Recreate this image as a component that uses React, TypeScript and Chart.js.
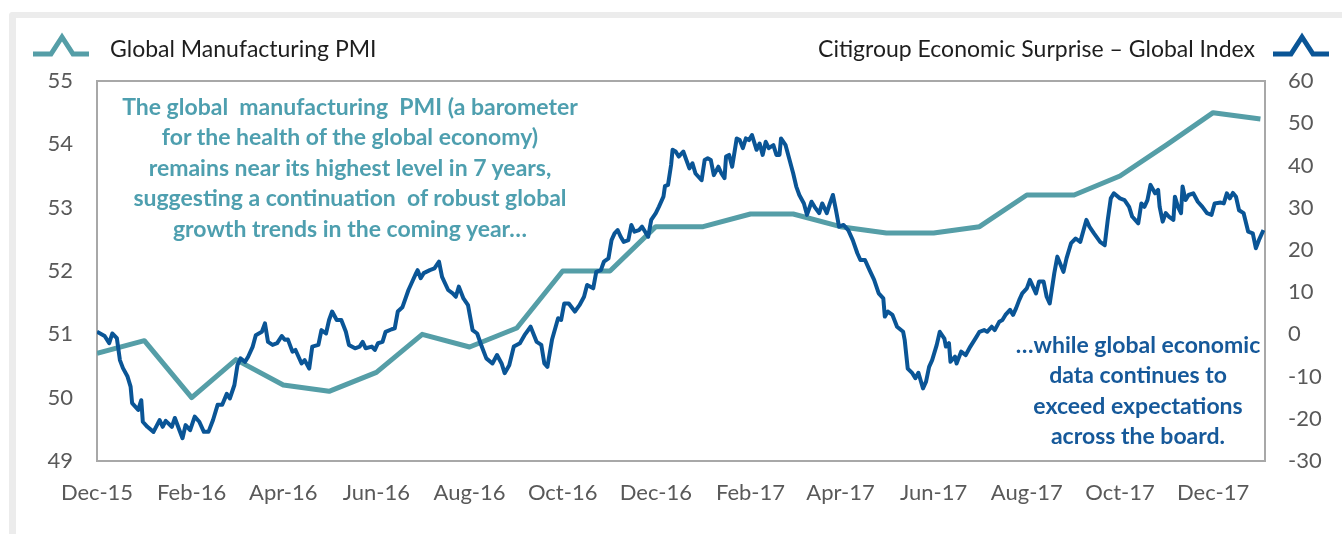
import React, { useEffect, useRef } from "react";
import { Chart, registerables } from "chart.js";

Chart.register(...registerables);

// ---------- DATA ----------
// x axis tick labels (every two months)
const tickLabels = [
  "Dec-15", "Feb-16", "Apr-16", "Jun-16", "Aug-16", "Oct-16", "Dec-16",
  "Feb-17", "Apr-17", "Jun-17", "Aug-17", "Oct-17", "Dec-17",
];

// Global Manufacturing PMI (monthly, left axis)
const pmiMonths = [
  "Dec-15", "Jan-16", "Feb-16", "Mar-16", "Apr-16", "May-16", "Jun-16", "Jul-16",
  "Aug-16", "Sep-16", "Oct-16", "Nov-16", "Dec-16", "Jan-17", "Feb-17", "Mar-17",
  "Apr-17", "May-17", "Jun-17", "Jul-17", "Aug-17", "Sep-17", "Oct-17", "Nov-17",
  "Dec-17", "Jan-18",
];
const pmiValues = [
  50.7, 50.9, 50.0, 50.6, 50.2, 50.1, 50.4, 51.0,
  50.8, 51.1, 52.0, 52.0, 52.7, 52.7, 52.9, 52.9,
  52.7, 52.6, 52.6, 52.7, 53.2, 53.2, 53.5, 54.0,
  54.5, 54.4,
];

// Citigroup Economic Surprise - Global Index (right axis)
// days counted from 1 Dec 2015
const citiDays = [
  0, 5, 8, 10, 13, 15, 17, 20, 22, 23,
  27, 29, 30, 33, 37, 41, 43, 45, 49, 51,
  54, 56, 58, 61, 64, 67, 70, 73, 76, 79,
  82, 85, 87, 90, 92, 94, 97, 99, 102, 104,
  108, 110, 112, 115, 118, 121, 123, 125, 128, 130,
  134, 136, 139, 141, 145, 147, 150, 152, 154, 157,
  160, 163, 165, 169, 172, 174, 176, 180, 182, 184,
  187, 189, 193, 195, 197, 200, 204, 206, 209, 210,
  212, 214, 218, 221, 224, 226, 230, 233, 235, 237,
  240, 243, 246, 249, 252, 255, 259, 262, 265, 267,
  270, 273, 277, 280, 284, 288,
  291, 293, 295, 298, 302, 304, 306, 309, 313, 316,
  319, 321, 325, 327, 330, 332, 335, 337, 339, 341,
  343, 345, 348, 350, 352, 355, 357, 361, 363, 366,
  368, 371, 372, 374, 376, 377, 379, 381, 384, 386,
  388, 390, 392, 396, 398, 400, 402, 404, 407, 409,
  411, 412, 414, 416, 419, 421, 423, 425, 427, 429,
  432, 434, 436, 438, 440, 443, 445, 447, 448, 451,
  453, 456, 458, 460, 463, 465, 468, 470, 473, 475,
  478, 480, 482, 484, 486, 489, 492, 495, 498, 500,
  503, 506, 509, 512, 515, 516, 518, 521, 524, 528,
  529, 531, 534, 536, 538, 540, 541, 543, 545, 547,
  550, 552, 555, 556, 558, 559, 562, 563, 566, 569,
  572, 576, 578, 581, 583, 586, 588, 591, 593, 595,
  598, 600, 602, 604, 606, 609, 611, 615, 617, 620,
  622, 624, 627, 629, 633, 635, 638, 641, 644, 648,
  650, 653, 657, 660, 662, 664, 666, 670, 673, 676,
  678, 682, 684, 686, 688, 690, 693, 695, 696, 698,
  700, 702, 705, 706, 708, 710, 711, 713, 715, 718,
  721, 724, 727, 730, 732, 736, 738, 740, 742, 744,
  746, 748, 751, 754, 757, 759, 761, 764,
];
const citiValues = [
  0.6, -0.4, -2.1, 0.2, -0.9, -6.1, -8.0, -10.0, -12.4, -16.3,
  -17.9, -15.6, -20.7, -21.9, -23.1, -20.3, -21.9, -20.5, -21.9, -19.8,
  -22.7, -24.6, -21.5, -22.7, -19.5, -20.7, -23.1, -23.1, -20.3, -16.7,
  -16.7, -14.1, -15.2, -12.0, -7.3, -5.7, -6.5, -5.3, -2.9, -0.2,
  0.6, 2.6, -1.8, -2.5, -2.1, -0.4, -1.3, -1.2, -4.1, -3.7,
  -6.9, -6.1, -8.1, -2.9, -2.5, 1.0, 0.2, 3.4, 5.4, 3.4,
  3.4, 0.6, -2.5, -3.3, -2.9, -1.8, -3.3, -2.9, -3.7, -2.1,
  -1.8, 0.6, 1.2, 1.4, 5.4, 6.4, 10.5, 12.1, 14.5, 15.2,
  13.3, 14.5, 15.2, 15.6, 17.2, 13.6, 10.5, 9.7, 8.9, 11.3,
  8.5, 6.9, 1.0, 0.2, -2.9, -5.7, -6.9, -4.9, -6.9, -9.2,
  -7.3, -2.9, -2.1, -0.2, 1.8, -1.8,
  -2.5, -6.9, -7.7, -1.3, 3.8, 3.4, 7.3, 7.3, 5.4, 6.9,
  8.9, 11.7, 10.9, 14.8, 15.2, 17.2, 18.0, 22.3, 23.9, 24.7,
  23.1, 21.9, 22.3, 25.9, 24.3, 24.7, 25.5, 23.1, 27.1, 28.7,
  30.2, 32.6, 35.1, 35.4, 40.1, 43.7, 43.3, 42.1, 43.3, 41.3,
  39.3, 40.5, 38.1, 36.5, 41.3, 41.7, 41.3, 37.7, 39.7, 38.1,
  37.0, 42.1, 42.5, 39.7, 46.4, 46.0, 44.1, 46.4, 46.0, 47.2,
  43.7, 45.2, 42.5, 45.6, 44.1, 44.8, 42.5, 42.5, 46.4, 44.8,
  42.1, 38.1, 35.0, 33.0, 31.0, 28.3, 31.4, 30.2, 28.7, 31.0,
  28.7, 31.0, 33.0, 29.4, 25.5, 25.9, 24.7, 22.3, 19.2, 17.6,
  17.6, 15.2, 12.9, 9.7, 8.5, 4.2, 5.4, 4.6, 1.8, 0.6,
  -1.3, -8.1, -9.2, -10.4, -9.1, -11.6, -12.8, -11.2, -7.7, -6.1,
  -2.5, 0.6, -1.0, -2.9, -2.1, -6.5, -5.3, -6.9, -4.1, -4.9,
  -2.9, -0.6, 0.6, 1.0, 0.6, 1.8, 1.0, 3.0, 3.4, 4.6,
  5.8, 4.6, 6.2, 8.1, 9.7, 10.9, 12.9, 9.7, 12.5, 12.5,
  8.9, 7.3, 14.5, 18.4, 14.8, 18.0, 21.6, 22.7, 21.9, 27.1,
  25.5, 23.9, 21.9, 21.1, 27.1, 32.2, 33.4, 32.2, 31.8, 30.2,
  27.9, 26.3, 31.0, 30.2, 31.8, 35.4, 33.4, 34.2, 30.2, 26.7,
  28.7, 27.9, 27.1, 32.6, 30.2, 28.7, 35.0, 31.8, 33.0, 33.4,
  31.4, 30.2, 28.7, 28.3, 31.0, 31.2, 31.0, 33.4, 32.2, 33.5,
  32.6, 29.4, 28.7, 24.3, 23.9, 20.4, 22.3, 24.7,
];

const pmiLabel = "Global Manufacturing PMI";
const citiLabel = "Citigroup Economic Surprise \u2013 Global Index";
const noteLeft = [
  "The global  manufacturing  PMI (a barometer",
  "for the health of the global economy)",
  "remains near its highest level in 7 years,",
  "suggesting a continuation  of robust global",
  "growth trends in the coming year\u2026",
];
const noteRight = [
  "\u2026while global economic",
  "data continues to",
  "exceed expectations",
  "across the board.",
];

// ---------- helpers ----------
const MONTHS = ["Jan", "Feb", "Mar", "Apr", "May", "Jun", "Jul", "Aug", "Sep", "Oct", "Nov", "Dec"];
const ORIGIN = Date.UTC(2015, 11, 1);
function labelToDay(label: string): number {
  const [m, y] = label.split("-");
  const t = Date.UTC(2000 + parseInt(y, 10), MONTHS.indexOf(m), 1);
  return Math.round((t - ORIGIN) / 86400000);
}

const TEAL = "#559EA7";
const TEAL_TEXT = "#4E9FAF";
const BLUE = "#0A5596";
const BLUE_TEXT = "#16599A";
const FONT = "Lato, 'Open Sans', sans-serif";

const W = 1342;
const H = 534;
const PLOT = { left: 97, right: 1265, top: 81, bottom: 461 };

const framePlugin = {
  id: "plotFrame",
  beforeDatasetsDraw(chart: any) {
    const { ctx, chartArea: a } = chart;
    ctx.save();
    ctx.strokeStyle = "#A8A8A8";
    ctx.lineWidth = 2;
    ctx.strokeRect(a.left, a.top, a.right - a.left, a.bottom - a.top);
    ctx.restore();
  },
};

function LegendIcon({ color, left }: { color: string; left: number }) {
  return (
    <svg
      width={60}
      height={30}
      style={{ position: "absolute", left, top: 30 }}
      viewBox="0 0 60 30"
    >
      <polyline
        points="0,24 18,24 29,7 40,24 56,24"
        fill="none"
        stroke={color}
        strokeWidth={5}
        strokeLinejoin="miter"
      />
    </svg>
  );
}

export default function App() {
  const canvasRef = useRef<HTMLCanvasElement | null>(null);

  useEffect(() => {
    if (!canvasRef.current) return;
    const tickDays = tickLabels.map(labelToDay);
    const pmiData = pmiMonths.map((m, i) => ({ x: labelToDay(m), y: pmiValues[i] }));
    const citiData = citiDays.map((d, i) => ({ x: d, y: citiValues[i] }));
    const tickFont = { family: FONT, size: 22 };

    const chart = new Chart(canvasRef.current, {
      type: "line",
      data: {
        datasets: [
          {
            label: citiLabel,
            data: citiData,
            yAxisID: "y2",
            borderColor: BLUE,
            borderWidth: 4,
            pointRadius: 0,
            tension: 0,
            borderJoinStyle: "round",
            order: 0,
          },
          {
            label: pmiLabel,
            data: pmiData,
            yAxisID: "y",
            borderColor: TEAL,
            borderWidth: 5,
            pointRadius: 0,
            tension: 0,
            borderJoinStyle: "round",
            order: 1,
          },
        ],
      },
      options: {
        responsive: false,
        animation: false,
        layout: { padding: { top: PLOT.top, left: 0, right: 0, bottom: 0 } },
        plugins: { legend: { display: false }, tooltip: { enabled: false } },
        scales: {
          x: {
            type: "linear",
            min: 0,
            max: 765,
            grid: { display: false, drawTicks: false },
            border: { display: false },
            ticks: {
              padding: 19,
              color: "#595959",
              font: tickFont,
              autoSkip: false,
              maxRotation: 0,
              callback: (_v: any, i: number) => tickLabels[i],
            },
            afterBuildTicks: (s: any) => {
              s.ticks = tickDays.map((v) => ({ value: v }));
            },
            afterFit: (s: any) => {
              s.height = H - PLOT.bottom;
            },
          },
          y: {
            position: "left",
            min: 49,
            max: 55,
            grid: { display: false, drawTicks: false },
            border: { display: false },
            ticks: { stepSize: 1, padding: 24, color: "#595959", font: tickFont },
            afterFit: (s: any) => {
              s.width = PLOT.left;
            },
          },
          y2: {
            position: "right",
            min: -30,
            max: 60,
            grid: { display: false, drawTicks: false },
            border: { display: false },
            ticks: { stepSize: 10, padding: 23, color: "#595959", font: tickFont },
            afterFit: (s: any) => {
              s.width = W - PLOT.right;
            },
          },
        },
      } as any,
      plugins: [framePlugin],
    });
    return () => chart.destroy();
  }, []);

  const noteStyle: React.CSSProperties = {
    position: "absolute",
    fontFamily: FONT,
    fontWeight: 700,
    fontSize: 23,
    lineHeight: "30.4px",
    textAlign: "center",
    whiteSpace: "pre",
  };

  const legendStyle: React.CSSProperties = {
    position: "absolute",
    top: 35,
    fontFamily: FONT,
    fontSize: 23,
    lineHeight: "26px",
    color: "#1E1E1E",
    whiteSpace: "pre",
  };

  return (
    <div
      style={{
        position: "absolute",
        left: 0,
        top: 0,
        width: W,
        height: H,
        background: "#ffffff",
        overflow: "hidden",
      }}
    >
      <div
        style={{
          position: "absolute",
          left: 9,
          top: 12,
          right: 0,
          bottom: 0,
          borderLeft: "7px solid #ECECEC",
          borderTop: "6px solid #ECECEC",
          borderTopLeftRadius: 4,
        }}
      />
      <canvas
        ref={canvasRef}
        width={W}
        height={H}
        style={{ position: "absolute", left: 0, top: 0, width: W, height: H }}
      />
      <LegendIcon color={TEAL} left={33} />
      <div style={{ ...legendStyle, left: 110 }}>{pmiLabel}</div>
      <div style={{ ...legendStyle, right: W - 1255, textAlign: "right" }}>{citiLabel}</div>
      <LegendIcon color={BLUE} left={1273} />
      <div style={{ ...noteStyle, left: 50, width: 600, top: 91, color: TEAL_TEXT }}>
        {noteLeft.join("\n")}
      </div>
      <div style={{ ...noteStyle, left: 988, width: 300, top: 329, color: BLUE_TEXT }}>
        {noteRight.join("\n")}
      </div>
    </div>
  );
}
